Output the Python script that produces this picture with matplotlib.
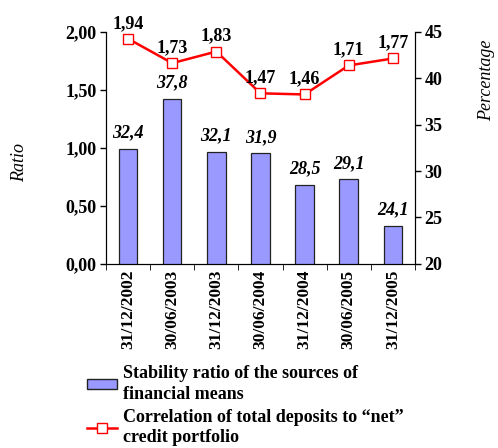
import matplotlib.pyplot as plt
from matplotlib.lines import Line2D
from matplotlib.patches import Patch

plt.rcParams['font.family'] = ['Liberation Serif', 'DejaVu Serif']

dates = ['31/12/2002', '30/06/2003', '31/12/2003', '30/06/2004',
         '31/12/2004', '30/06/2005', '31/12/2005']
stability = [32.4, 37.8, 32.1, 31.9, 28.5, 29.1, 24.1]   # percentage, right axis
correlation = [1.94, 1.73, 1.83, 1.47, 1.46, 1.71, 1.77]  # ratio, left axis

fig = plt.figure(figsize=(4.98, 4.48), dpi=100)
ax = fig.add_axes([0.213, 0.411, 0.62, 0.518])
ax2 = ax.twinx()
ax.set_zorder(ax2.get_zorder() + 1)
ax.patch.set_visible(False)

x = list(range(len(dates)))
ax2.bar(x, stability, width=0.42, color='#9999ff', edgecolor='#222222', linewidth=0.9)
ax.plot(x, correlation, color='red', linewidth=1.8, marker='s', markersize=7,
        markerfacecolor='white', markeredgecolor='red', markeredgewidth=1)

for xi, v in zip(x, stability):
    ax2.text(xi, v + 0.8, f'{v:.1f}'.replace('.', ','), ha='center', va='bottom',
             fontsize=13, fontweight='bold', fontstyle='italic')
for xi, v in zip(x, correlation):
    ax.text(xi, v + 0.06, f'{v:.2f}'.replace('.', ','), ha='center', va='bottom',
            fontsize=13, fontweight='bold')

ax.set_xlim(-0.5, 6.5)
ax.set_ylim(0, 2)
ax2.set_ylim(20, 45)
ax.set_yticks([0, 0.5, 1, 1.5, 2])
ax.set_yticklabels(['0,00', '0,50', '1,00', '1,50', '2,00'], fontsize=13, fontweight='bold')
ax2.set_yticks([20, 25, 30, 35, 40, 45])
ax2.set_yticklabels(['20', '25', '30', '35', '40', '45'], fontsize=13, fontweight='bold')

ax.set_xticks(x)
ax.set_xticklabels(dates, rotation=90, fontsize=12.5, fontweight='bold')
ax.set_xticks([i - 0.5 for i in range(len(dates) + 1)], minor=True)
ax.tick_params(axis='x', which='major', length=0, pad=4)
ax.tick_params(axis='x', which='minor', length=4, direction='out')
ax.tick_params(axis='y', length=4, width=1, pad=3)
ax2.tick_params(axis='y', length=4, width=1, pad=3)

for a in (ax, ax2):
    a.spines['top'].set_visible(False)

fig.text(0.04, 0.638, 'Ratio', rotation=90, ha='center', va='center',
         fontsize=13, fontstyle='italic')
fig.text(0.978, 0.82, 'Percentage', rotation=90, ha='center', va='center',
         fontsize=13, fontstyle='italic')

handles = [Patch(facecolor='#9999ff', edgecolor='#222222'),
           Line2D([], [], color='red', linewidth=1.8, marker='s', markersize=7,
                  markerfacecolor='white', markeredgecolor='red')]
labels = ['Stability ratio of the sources of\nfinancial means',
          'Correlation of total deposits to \u201cnet\u201d\ncredit portfolio']
leg = fig.legend(handles, labels, loc='upper left', bbox_to_anchor=(0.156, 0.205),
                 frameon=False, prop={'size': 13, 'weight': 'bold'},
                 handlelength=1.65, handleheight=0.5, handletextpad=0.35,
                 labelspacing=0.3, borderpad=0)
for t in leg.get_texts():
    t.set_linespacing(1.3)

fig.savefig('out.png', dpi=100)
